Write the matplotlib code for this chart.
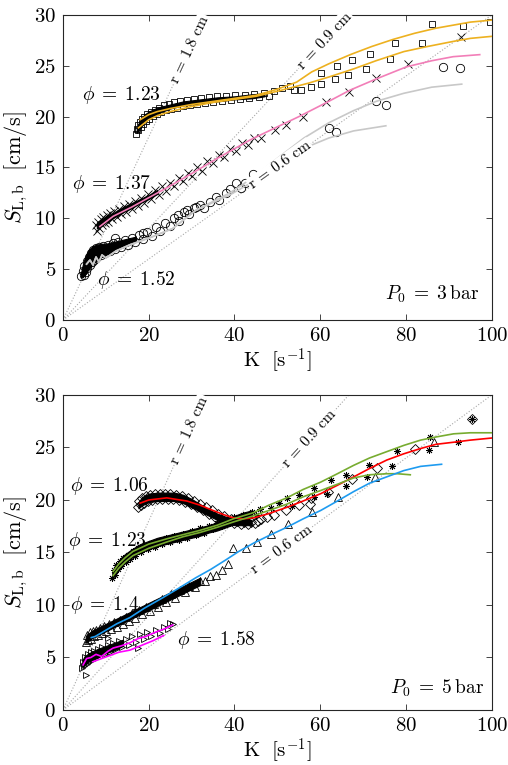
#!/usr/bin/env python3
"""
Burned flame speed vs stretch rate, P0 = 3 bar and P0 = 5 bar.
"""

import numpy as np
import matplotlib

matplotlib.use("Agg")
import matplotlib.pyplot as plt

plt.rcParams["font.family"] = "serif"
plt.rcParams["font.serif"] = ["cmr10"]
plt.rcParams["mathtext.fontset"] = "cm"
plt.rcParams["axes.formatter.use_mathtext"] = True

# ---------------- top panel, P0 = 3 bar ----------------
# phi = 1.23, squares
sq_K = [17.0, 17.2, 17.4, 17.6, 17.9, 18.1, 18.4, 18.7, 19.0, 19.3, 19.7, 20.1, 20.5, 20.9, 21.4, 21.9,
        22.4, 22.9, 23.5, 24.1, 24.7, 25.3, 26.0, 26.7, 27.4, 28.1, 28.9, 29.7, 30.5, 31.3, 32.2, 33.1,
        34.0, 35.0, 36.0, 37.0, 38.0, 39.1, 40.2, 41.3, 42.4, 43.5, 44.6, 45.7, 46.8, 48.0, 49.2,
        51.0, 53.0, 53.8, 55.5, 57.8, 60.1, 60.1, 63.4, 63.8, 66.4, 67.4, 70.6, 71.6, 76.2, 77.4,
        83.7, 86.0, 93.2, 99.5]
sq_S = [18.3, 18.8, 19.2, 18.7, 19.5, 19.0, 19.8, 19.3, 20.0, 19.6, 20.3, 19.8, 20.5, 20.1, 20.7, 20.3,
        20.9, 20.5, 21.1, 20.7, 21.2, 20.8, 21.4, 20.9, 21.5, 21.0, 21.6, 21.1, 21.7, 21.2, 21.8, 21.3,
        21.9, 21.4, 22.0, 21.5, 22.0, 21.6, 22.1, 21.7, 22.1, 21.8, 22.2, 21.9, 22.3, 22.0, 22.5,
        22.8, 23.0, 22.6, 22.6, 22.9, 24.3, 23.2, 23.7, 25.0, 24.1, 25.6, 24.7, 26.2, 25.7, 27.2,
        27.2, 29.1, 28.9, 29.3]
# dense core of the squares cloud (band edges)
sq_core_K = [17.2, 18.0, 19.0, 20.0, 22.0, 25.0, 28.0, 32.0, 36.0, 40.0, 44.0, 47.0]
sq_core_lo = [18.4, 18.9, 19.4, 19.8, 20.3, 20.8, 21.1, 21.3, 21.5, 21.7, 21.8, 22.0]
sq_core_hi = [18.9, 19.7, 20.2, 20.5, 20.9, 21.2, 21.5, 21.7, 21.9, 22.0, 22.2, 22.3]

# phi = 1.37, crosses
cr_K = [7.6, 7.9, 8.2, 8.5, 8.8, 9.1, 9.4, 9.8, 10.2, 10.6, 11.0, 11.5, 12.0, 12.5, 13.0, 13.6, 14.2,
        14.8, 15.4, 16.1, 16.8, 17.5, 18.2, 19.0, 19.8, 20.6, 21.4, 22.3, 23.2, 24.1, 25.0, 26.0, 27.0,
        28.0, 29.1, 30.2, 31.3, 32.5, 33.7, 35.0, 36.3, 37.6, 39.0, 40.4, 41.8, 43.2, 44.6,
        46.2, 49.4, 52.0, 55.9, 61.3, 66.7, 73.0, 80.4, 92.8]
cr_S = [9.3, 8.8, 9.6, 9.0, 9.9, 9.3, 10.1, 9.5, 10.3, 9.6, 10.5, 9.9, 10.7, 10.1, 10.9, 10.4, 11.2,
        10.6, 11.4, 10.9, 11.7, 11.2, 12.0, 11.5, 12.4, 11.9, 12.8, 12.3, 13.2, 12.7, 13.5, 13.2, 14.0,
        13.7, 14.5, 14.2, 15.0, 14.7, 15.6, 15.4, 16.2, 16.0, 16.8, 16.6, 17.4, 17.2, 17.9,
        17.9, 18.7, 19.2, 20.0, 21.4, 22.4, 23.8, 25.2, 27.8]
cr_core_K = [7.9, 9.0, 10.0, 12.0, 14.0, 16.0, 18.0, 20.0, 22.0]
cr_core_lo = [9.0, 9.3, 9.6, 10.1, 10.6, 11.0, 11.5, 11.9, 12.4]
cr_core_hi = [9.6, 9.9, 10.2, 10.6, 11.1, 11.5, 11.9, 12.3, 12.8]

# phi = 1.52, circles
ci_K = [4.3, 4.6, 4.9, 5.0, 5.3, 5.5, 5.7, 6.0, 6.2, 6.5, 6.7, 7.0, 7.3, 7.6, 8.0, 8.4, 8.8, 9.3, 9.8,
        10.4, 11.0, 11.6, 12.2, 12.9, 13.6, 14.4, 15.2, 16.0, 16.9, 17.8, 18.7, 19.7, 20.7, 21.7, 22.7,
        23.8, 24.9, 26.0, 27.1, 28.2, 29.4, 30.6, 12.1, 18.6,
        26.8, 29.0, 31.0, 32.0, 33.0, 34.3, 35.7, 36.5, 38.0, 39.0, 40.4, 41.5, 42.4, 44.3,
        62.0, 63.7, 73.0, 75.3, 88.6, 92.5]
ci_S = [4.3, 4.8, 4.4, 5.3, 4.7, 5.8, 5.1, 6.2, 5.4, 6.6, 5.7, 6.9, 5.9, 7.1, 6.2, 7.2, 6.4, 7.3, 6.6,
        7.4, 6.8, 7.6, 7.0, 7.7, 7.2, 7.9, 7.4, 8.1, 7.7, 8.4, 8.0, 8.7, 8.3, 9.1, 8.8, 9.5, 9.2, 10.0,
        9.7, 10.6, 10.4, 11.0, 8.1, 8.6,
        10.3, 10.8, 11.1, 11.3, 11.0, 11.6, 12.1, 11.8, 12.5, 12.9, 13.5, 13.0, 13.5, 14.4,
        18.9, 18.5, 21.5, 21.1, 24.9, 24.8]
ci_core_K = [4.2, 4.6, 5.0, 5.5, 6.0, 7.0, 8.0, 9.0, 10.0, 11.0, 13.0, 15.0, 17.0]
ci_core_lo = [4.2, 4.2, 4.4, 4.7, 5.0, 5.5, 5.9, 6.2, 6.4, 6.6, 7.0, 7.3, 7.7]
ci_core_hi = [4.6, 5.4, 6.0, 6.5, 6.9, 7.3, 7.4, 7.5, 7.5, 7.6, 7.8, 8.0, 8.2]

# fitted curves, top
or1_K = [18, 20, 22, 25, 30, 35, 40, 45, 50, 54.5, 58, 62, 67, 72, 77, 82, 87, 91, 95, 100]
or1_S = [19.7, 20.2, 20.5, 20.8, 21.2, 21.5, 21.8, 22.1, 22.7, 23.4, 24.4, 25.2, 26.1, 26.9, 27.6,
         28.2, 28.7, 29.0, 29.3, 29.5]
or2_K = [17.6, 20, 22, 25, 30, 35, 40, 45, 50, 57.3, 62, 67.8, 73, 79.5, 85, 91, 95, 100]
or2_S = [18.9, 19.7, 20.1, 20.5, 21.0, 21.4, 21.7, 22.0, 22.5, 23.3, 23.9, 24.7, 25.5, 26.4, 26.9,
         27.4, 27.7, 27.9]
pk_K = [8.6, 11.7, 16, 20.3, 24.2, 30, 36, 43.6, 50, 55, 61.5, 66.9, 73, 80.1, 86, 91, 97.2]
pk_S = [9.2, 10.2, 11.1, 12.1, 13.0, 14.4, 15.9, 17.7, 19.0, 20.0, 21.4, 22.6, 23.7, 24.9, 25.5,
        25.9, 26.1]
gr1_K = [5.5, 6.3, 7.0, 7.7, 8.4, 9.1, 10.0, 12.4, 15.6, 20.3, 25.6, 31.0, 38.9, 44.3, 50.0, 56.8,
         62.0, 67.8, 75.3]
gr1_S = [5.5, 5.9, 5.4, 6.2, 5.7, 6.4, 6.1, 6.8, 7.4, 8.1, 9.0, 10.8, 12.3, 13.6, 15.2, 17.0, 17.9,
         18.6, 19.1]
gr2_K = [5.5, 6.3, 7.0, 7.7, 8.4, 9.1, 10.0, 12.4, 15.6, 20.3, 25.6, 31.0, 38.9, 44.3, 50.0, 56.2,
         62.0, 67.8, 73.0, 79.5, 86.0, 93.0]
gr2_S = [5.5, 5.9, 5.4, 6.2, 5.7, 6.4, 6.1, 6.8, 7.4, 8.1, 9.0, 10.8, 12.5, 14.0, 15.9, 17.9, 19.4,
         20.6, 21.5, 22.3, 22.9, 23.2]

# ---------------- bottom panel, P0 = 5 bar ----------------
# phi = 1.06, diamonds
di_K = [17.5, 17.8, 18.1, 18.5, 18.9, 19.3, 19.8, 20.3, 20.8, 21.4, 22.0, 22.6, 23.2, 23.8, 24.4,
        25.0, 25.6, 26.3, 27.0, 27.7, 28.4, 29.1, 29.8, 30.5, 31.2, 31.9, 32.6, 33.3, 34.0, 34.7,
        35.4, 36.1, 36.8, 37.5, 38.3, 39.1, 39.9, 40.7, 41.5, 42.3, 43.1, 43.9, 44.7, 45.5,
        46.1, 47.5, 49.2, 51.9, 55.0, 57.8, 57.6, 61.8, 67.4, 73.2, 82.0, 95.4]
di_S = [19.3, 19.9, 19.5, 20.2, 19.7, 20.4, 19.9, 20.5, 20.0, 20.6, 20.1, 20.6, 20.1, 20.6, 20.1,
        20.6, 20.1, 20.5, 20.0, 20.4, 19.8, 20.2, 19.6, 19.9, 19.3, 19.6, 19.0, 19.3, 18.7, 19.0,
        18.4, 18.7, 18.2, 18.5, 18.0, 18.2, 17.8, 18.0, 17.7, 17.9, 17.7, 17.9, 17.8, 18.0,
        18.2, 18.4, 18.6, 19.0, 19.5, 20.2, 19.6, 20.8, 22.0, 23.0, 24.9, 27.7]
di_core_K = [17.6, 18.5, 20, 22, 24, 26, 28, 30, 32, 34, 36, 38, 40, 42, 44]
di_core_lo = [19.2, 19.5, 19.8, 19.9, 19.9, 19.9, 19.7, 19.3, 18.9, 18.5, 18.1, 17.8, 17.6, 17.6, 17.6]
di_core_hi = [19.8, 20.3, 20.6, 20.7, 20.7, 20.7, 20.5, 20.1, 19.6, 19.1, 18.7, 18.4, 18.2, 18.1, 18.1]

# phi = 1.23, asterisks
as_K = [11.5, 11.8, 12.1, 12.4, 12.8, 13.2, 13.6, 14.1, 14.6, 15.1, 15.7, 16.3, 16.9, 17.6, 18.3,
        19.0, 19.8, 20.6, 21.4, 22.3, 23.2, 24.1, 25.0, 26.0, 27.0, 28.0, 29.0, 30.0, 31.0, 32.0,
        33.0, 34.0, 35.0, 36.0, 37.0, 38.0, 39.0, 40.0, 41.0, 42.0, 43.0, 44.0, 45.0, 46.0,
        48.5, 50.4, 52.2, 53.4, 55.0, 58.5, 58.5, 61.5, 62.4, 66.0, 66.0, 70.8, 71.3, 76.7, 77.9,
        85.3, 85.5, 92.1, 95.4]
as_S = [12.6, 13.3, 12.9, 13.8, 13.4, 14.2, 13.7, 14.5, 14.1, 14.8, 14.4, 15.1, 14.7, 15.4, 15.0,
        15.6, 15.3, 15.9, 15.5, 16.1, 15.8, 16.4, 16.0, 16.6, 16.2, 16.8, 16.4, 17.0, 16.7, 17.3,
        16.9, 17.5, 17.2, 17.8, 17.5, 18.1, 17.8, 18.4, 18.1, 18.6, 18.3, 18.9, 18.6, 19.1,
        19.2, 19.7, 20.2, 19.4, 20.5, 21.1, 20.3, 20.6, 21.9, 22.4, 21.3, 22.2, 23.3, 23.2, 24.7,
        24.8, 26.0, 25.5, 27.7]
as_core_K = [11.5, 12, 13, 14, 15, 16, 18, 20, 22, 24, 26, 28, 30, 32, 34, 36, 38, 40, 42, 44]
as_core_lo = [12.5, 12.8, 13.3, 13.8, 14.2, 14.5, 15.0, 15.3, 15.6, 15.8, 16.0, 16.2, 16.4, 16.6,
              16.9, 17.1, 17.4, 17.7, 18.0, 18.3]
as_core_hi = [13.1, 13.6, 14.2, 14.7, 15.0, 15.3, 15.8, 16.1, 16.4, 16.6, 16.8, 17.0, 17.2, 17.4,
              17.6, 17.9, 18.2, 18.5, 18.8, 19.0]

# phi = 1.4, triangles up
tu_K = [5.4, 5.6, 5.9, 6.2, 6.5, 6.9, 7.3, 7.7, 8.1, 8.6, 9.1, 9.6, 10.1, 10.7, 11.3, 11.9, 12.5,
        13.2, 13.9, 14.6, 15.3, 16.1, 16.9, 17.7, 18.5, 19.4, 20.3, 21.2, 22.1, 23.1, 24.1, 25.1,
        26.2, 27.3, 28.4, 29.5, 30.7, 31.9, 33.1, 34.4, 35.7, 37.0, 38.4,
        39.7, 42.8, 45.2, 48.5, 52.4, 58.0, 64.1, 72.7, 86.5]
tu_S = [6.5, 7.1, 6.7, 7.4, 6.8, 7.5, 7.0, 7.6, 7.1, 7.8, 7.3, 8.0, 7.5, 8.2, 7.7, 8.4, 7.9, 8.6,
        8.2, 8.9, 8.5, 9.2, 8.8, 9.5, 9.1, 9.8, 9.4, 10.1, 9.8, 10.6, 10.3, 11.0, 10.7, 11.4, 11.2,
        11.8, 11.7, 12.3, 12.3, 12.8, 12.9, 13.3, 13.9,
        15.4, 15.4, 16.0, 16.8, 17.7, 18.9, 20.3, 22.2, 25.5]
tu_core_K = [5.3, 6, 7, 8, 10, 12, 14, 16, 18, 20, 22, 24, 26, 28, 30, 32]
tu_core_lo = [6.4, 6.6, 6.9, 7.1, 7.5, 7.9, 8.3, 8.7, 9.1, 9.5, 9.9, 10.3, 10.7, 11.1, 11.5, 11.9]
tu_core_hi = [7.0, 7.3, 7.6, 7.8, 8.2, 8.6, 9.0, 9.4, 9.8, 10.2, 10.6, 11.0, 11.4, 11.8, 12.2, 12.6]

# phi = 1.58, triangles right
tr_K = [4.5, 4.7, 5.0, 5.2, 5.5, 5.8, 6.1, 6.5, 6.9, 7.3, 7.7, 8.2, 8.7, 9.2, 9.8, 10.4, 11.0, 11.7,
        12.4, 13.1, 13.8, 14.6, 15.4, 16.2, 17.0, 17.9, 18.8, 19.7, 20.6, 21.6, 22.6, 23.6, 24.6,
        25.6, 5.4, 10.5, 17.5, 25.0]
tr_S = [4.0, 4.6, 4.2, 5.0, 4.4, 5.3, 4.6, 5.5, 4.8, 5.6, 5.0, 5.8, 5.2, 6.0, 5.3, 6.2, 5.5, 6.4,
        5.8, 6.6, 6.0, 6.8, 6.2, 7.0, 6.5, 7.2, 6.8, 7.4, 7.0, 7.6, 7.3, 7.9, 7.7, 8.2, 3.3, 6.9,
        5.9, 8.3]
tr_core_K = [4.5, 5, 6, 7, 8, 10, 12, 14]
tr_core_lo = [4.1, 4.3, 4.6, 4.8, 5.0, 5.4, 5.7, 6.1]
tr_core_hi = [4.7, 5.1, 5.4, 5.6, 5.8, 6.1, 6.4, 6.7]

# fitted curves, bottom
rd_K = [18, 20, 24.2, 28.9, 32, 35, 37.5, 39.7, 42, 44.5, 48, 52.2, 56, 60.1, 64, 67.8, 71.5, 75.5,
        79.5, 83.4, 87, 91.1, 95, 100]
rd_S = [19.7, 20.0, 20.2, 19.9, 19.5, 19.0, 18.6, 18.3, 18.2, 18.3, 18.7, 19.3, 19.9, 20.6, 21.4,
        22.2, 23.0, 23.8, 24.4, 24.9, 25.3, 25.5, 25.7, 25.9]
gn1_K = [11.7, 13, 14.5, 16.3, 20, 24.2, 28, 31.9, 36, 39.7, 44.5, 48, 52.2, 56, 60.1, 64, 67.8,
         71.5, 75.5, 79.5, 83.4, 87, 91.1, 95, 100]
gn1_S = [13.2, 13.9, 14.5, 15.1, 15.8, 16.3, 16.7, 17.1, 17.6, 18.2, 18.8, 19.5, 20.2, 21.0, 21.7,
         22.5, 23.3, 24.0, 24.6, 25.2, 25.7, 26.0, 26.3, 26.4, 26.4]
gn2_K = [11.7, 13, 14.5, 16.3, 20, 24.2, 28, 31.9, 36, 39.7, 44.5, 48, 52.2, 56, 60.1, 64, 67.8,
         71.5, 75.5, 78, 81]
gn2_S = [12.8, 13.5, 14.1, 14.7, 15.4, 16.0, 16.5, 16.9, 17.4, 17.9, 18.5, 19.0, 19.6, 20.3, 20.9,
         21.5, 22.1, 22.4, 22.5, 22.5, 22.4]
bl_K = [6.6, 7.5, 10, 12.5, 15.6, 19, 23.3, 27, 31, 34.5, 38, 41, 44.5, 48, 52.2, 56, 60.1, 64,
        67.8, 71.5, 75.5, 79.5, 83.4, 88.3]
bl_S = [6.9, 7.0, 7.6, 8.2, 8.8, 9.7, 10.7, 11.6, 12.6, 13.4, 14.3, 15.1, 15.9, 16.6, 17.4, 18.2,
        19.0, 19.9, 20.8, 21.6, 22.2, 22.8, 23.2, 23.4]
mg1_K = [4.7, 5.5, 6.5, 7.7, 9, 10.5, 11.7, 13.5, 15.6, 17.5, 19.3, 21.5, 23.5, 25.6]
mg1_S = [4.3, 4.9, 5.0, 5.3, 5.1, 5.6, 5.9, 6.1, 6.4, 6.8, 7.0, 7.4, 7.7, 8.1]
mg2_K = [7, 9, 11, 13, 15.6, 18, 21, 23.5]
mg2_S = [4.6, 4.9, 5.2, 5.5, 5.7, 6.1, 6.6, 7.1]

# flame radius reference lines, S = r K / 2
radii = [1.8, 0.9, 0.6]
radius_labels = ["r = 1.8 cm", "r = 0.9 cm", "r = 0.6 cm"]
label_K_top = [29.6, 61.0, 50.7]
label_K_bot = [29.6, 57.5, 51.0]

ORANGE = "#EDB120"
PINK = "#F27EB8"
LGRAY = "#C8C8C8"
RED = "#FF0000"
GREEN = "#77AC30"
BLUE = "#1E9BF0"
MAGENTA = "#FF00FF"

mk = dict(linestyle="none", markerfacecolor="none", markeredgecolor="black", markeredgewidth=0.6, zorder=2)
fit = dict(lw=1.2, zorder=3)


def cloud(ax, K, lo, hi):
    ax.fill_between(K, lo, hi, color="black", lw=0.8, edgecolor="black", zorder=2)


def style_axes(ax, label_K):
    for r, lab, k in zip(radii, radius_labels, label_K):
        ax.axline((0, 0), slope=r / 2, color="#A8A8A8", lw=0.8, ls=":", zorder=1)
        ax.text(k, k * r / 2, lab, fontsize=11, ha="center", va="center",
                rotation=np.degrees(np.arctan(r / 2)), rotation_mode="anchor",
                transform_rotates_text=True, zorder=4,
                bbox=dict(facecolor="white", edgecolor="none", pad=1.0))
    ax.set_xlim(0, 100)
    ax.set_ylim(0, 30)
    ax.set_xticks(np.arange(0, 101, 20))
    ax.set_yticks(np.arange(0, 31, 5))
    ax.tick_params(direction="in", top=True, right=True, length=4, width=0.6,
                   labelsize=15, color="#262626", pad=5)
    for sp in ax.spines.values():
        sp.set_color("#262626")
        sp.set_linewidth(0.8)
    ax.set_xlabel(r"K $\;[\mathrm{s}^{-1}]$", fontsize=15, labelpad=1)
    ax.set_ylabel(r"$S_{\mathrm{L,b}}$ $\;[\mathrm{cm/s}]$", fontsize=16, labelpad=3)


fig = plt.figure(figsize=(5.08, 7.65), dpi=100)
ax1 = fig.add_axes([0.124, 0.5817, 0.844, 0.3987])
ax2 = fig.add_axes([0.124, 0.0719, 0.844, 0.4118])

# top panel
cloud(ax1, sq_core_K, sq_core_lo, sq_core_hi)
cloud(ax1, cr_core_K, cr_core_lo, cr_core_hi)
cloud(ax1, ci_core_K, ci_core_lo, ci_core_hi)
ax1.plot(sq_K, sq_S, marker="s", ms=5, **mk)
ax1.plot(cr_K, cr_S, marker="x", ms=6, **mk)
ax1.plot(ci_K, ci_S, marker="o", ms=6, **mk)
ax1.plot(or1_K, or1_S, color=ORANGE, **fit)
ax1.plot(or2_K, or2_S, color=ORANGE, **fit)
ax1.plot(pk_K, pk_S, color=PINK, **fit)
ax1.plot(gr1_K, gr1_S, color=LGRAY, **fit)
ax1.plot(gr2_K, gr2_S, color=LGRAY, **fit)
style_axes(ax1, label_K_top)
phi_kw = dict(fontsize=14, ha="left", va="center")
ax1.text(4.4, 22.1, r"$\phi\;=\;1.23$", **phi_kw)
ax1.text(2.1, 13.4, r"$\phi\;=\;1.37$", **phi_kw)
ax1.text(7.9, 3.9, r"$\phi\;=\;1.52$", **phi_kw)
ax1.text(97, 2.5, r"$P_0\;=\;3\,\mathrm{bar}$", fontsize=14, ha="right", va="center")

# bottom panel
cloud(ax2, di_core_K, di_core_lo, di_core_hi)
cloud(ax2, as_core_K, as_core_lo, as_core_hi)
cloud(ax2, tu_core_K, tu_core_lo, tu_core_hi)
cloud(ax2, tr_core_K, tr_core_lo, tr_core_hi)
ax2.plot(di_K, di_S, marker="D", ms=5, **mk)
ax2.plot(as_K, as_S, marker=(8, 2, 0), ms=5, **mk)
ax2.plot(tu_K, tu_S, marker="^", ms=6, **mk)
ax2.plot(tr_K, tr_S, marker=">", ms=5, **mk)
ax2.plot(rd_K, rd_S, color=RED, **fit)
ax2.plot(gn1_K, gn1_S, color=GREEN, **fit)
ax2.plot(gn2_K, gn2_S, color=GREEN, **fit)
ax2.plot(bl_K, bl_S, color=BLUE, **fit)
ax2.plot(mg1_K, mg1_S, color=MAGENTA, **fit)
ax2.plot(mg2_K, mg2_S, color=MAGENTA, **fit)
style_axes(ax2, label_K_bot)
ax2.text(1.6, 21.3, r"$\phi\;=\;1.06$", **phi_kw)
ax2.text(1.2, 16.1, r"$\phi\;=\;1.23$", **phi_kw)
ax2.text(1.6, 10.0, r"$\phi\;=\;1.4$", **phi_kw)
ax2.text(26.6, 6.7, r"$\phi\;=\;1.58$", **phi_kw)
ax2.text(98.1, 2.1, r"$P_0\;=\;5\,\mathrm{bar}$", fontsize=14, ha="right", va="center")

fig.savefig("out.png", dpi=100)
